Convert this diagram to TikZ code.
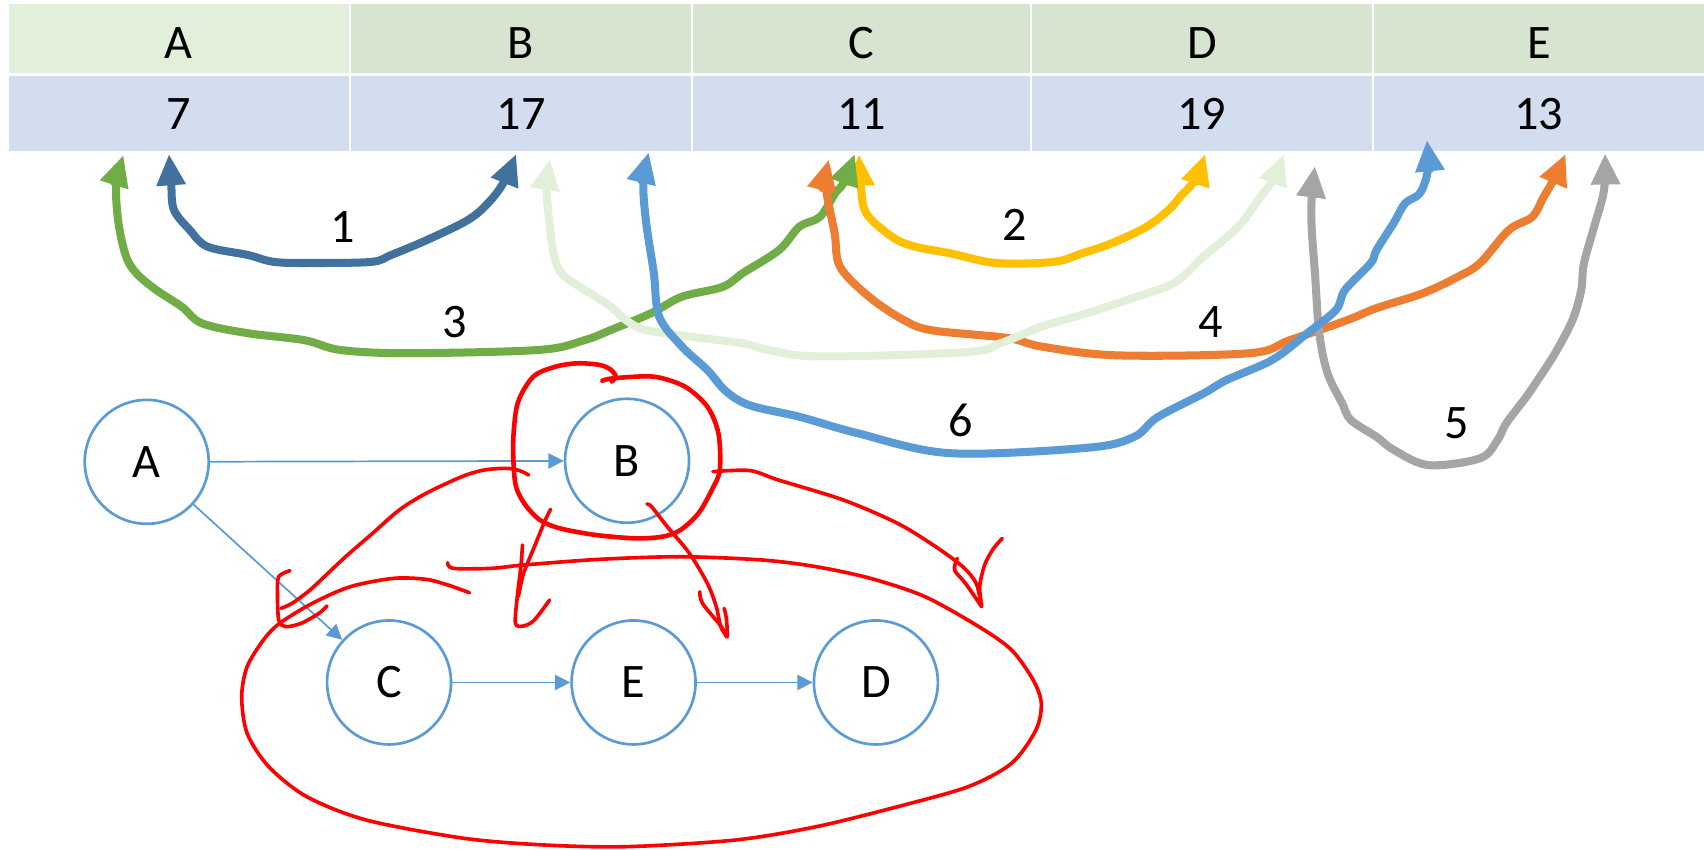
\documentclass[tikz,border=0pt]{standalone}
\usepackage{fontspec}
\setmainfont{Carlito}
\usetikzlibrary{arrows.meta}
\definecolor{hdrA}{HTML}{E2EFDA}
\definecolor{hdr}{HTML}{D7E4D0}
\definecolor{val}{HTML}{D2DEEF}
\definecolor{nodeblue}{HTML}{5B9BD5}
\definecolor{cdark}{HTML}{41719C}
\definecolor{cyellow}{HTML}{FFC000}
\definecolor{cgreen}{HTML}{70AD47}
\definecolor{cpale}{HTML}{E2F0D9}
\definecolor{corange}{HTML}{ED7D31}
\definecolor{cblue}{HTML}{5B9BD5}
\definecolor{cgray}{HTML}{A5A5A5}
\definecolor{pen}{HTML}{FF0000}
\begin{document}
\begin{tikzpicture}[x=0.01cm,y=-0.01cm,
  every node/.style={font=\fontsize{12.6}{14}\selectfont},
  hcell/.style={inner sep=0, outer sep=0, anchor=north west, minimum height=0.63cm},
  vcell/.style={inner sep=0, outer sep=0, anchor=north west, minimum height=0.69cm, fill=val},
  txt/.style={inner sep=0, anchor=base},
  num/.style={inner sep=0, anchor=center},
  flow/.style={line width=2.1pt, line cap=round, line join=round,
    {Triangle[length=8.2pt,width=7.2pt]}-{Triangle[length=8.2pt,width=7.2pt]}},
  gnode/.style={circle, draw=nodeblue, line width=0.7pt, minimum size=1.14cm, inner sep=0},
  gedge/.style={draw=nodeblue, line width=0.45pt, -{Triangle[length=4pt,width=4pt]}},
  redpen/.style={draw=pen, line width=0.95pt, line cap=round, line join=round},
]
\useasboundingbox (0,0) rectangle (1568,782);

% table: header row
\node[hcell, fill=hdrA, minimum width=3.13cm] (hA) at (8,4) {};
\node[hcell, fill=hdr, minimum width=3.13cm] (hB) at (323,4) {};
\node[hcell, fill=hdr, minimum width=3.10cm] (hC) at (638,4) {};
\node[hcell, fill=hdr, minimum width=3.12cm] (hD) at (950,4) {};
\node[hcell, fill=hdr, minimum width=3.04cm] (hE) at (1264,4) {};
% table: value row
\node[vcell, minimum width=3.13cm] (vA) at (8,70) {};
\node[vcell, minimum width=3.13cm] (vB) at (323,70) {};
\node[vcell, minimum width=3.10cm] (vC) at (638,70) {};
\node[vcell, minimum width=3.12cm] (vD) at (950,70) {};
\node[vcell, minimum width=3.04cm] (vE) at (1264,70) {};
% table texts
\node[txt] (tA) at (164.5,53.7) {A};
\node[txt] (tB) at (479.5,53.7) {B};
\node[txt] (tC) at (793,53.7) {C};
\node[txt] (tD) at (1106,53.7) {D};
\node[txt] (tE) at (1416,53.7) {E};
\node[txt] (nA) at (164.5,119.6) {7};
\node[txt] (nB) at (479.5,119.6) {17};
\node[txt] (nC) at (793,119.6) {11};
\node[txt] (nD) at (1106,119.6) {19};
\node[txt] (nE) at (1416,119.6) {13};

% end points of the swap arrows
\coordinate (p1a) at (155.5,141.7); \coordinate (p1b) at (475,141.7);
\coordinate (p2a) at (790.5,142);   \coordinate (p2b) at (1109,141.7);
\coordinate (p3a) at (113.6,142.6); \coordinate (p3b) at (786.6,141.7);
\coordinate (p4a) at (762.7,146.6); \coordinate (p4b) at (1440.7,141.7);
\coordinate (p5a) at (1210,152.8);  \coordinate (p5b) at (1477,141);
\coordinate (p6a) at (597,140);     \coordinate (p6b) at (1313,128.8);
\coordinate (pxa) at (506,146);     \coordinate (pxb) at (1181.6,141.7);

% swap 2
\draw[flow, cyellow] plot[smooth, tension=0.55] coordinates {(p2a) (792,168.6) (797,196) (821,218) (842,227) (874,233) (916.6,242) (969.6,241) (996,233) (1022.6,224) (1054.6,209) (1075.6,193) (1086,181) (1099.6,165.6) (p2b)};
% swap 1
\draw[flow, cdark] plot[smooth, tension=0.55] coordinates {(p1a) (157.5,168.6) (160,193) (174.6,211.6) (191,227) (228,234.6) (252,241) (285,242) (341.6,241) (360,234.6) (393,220.8) (430.5,202.5) (449,187) (463,168.6) (p1b)};
% swap 3
\draw[flow, cgreen] plot[smooth, tension=0.55] coordinates {(p3a) (107,171) (109,205) (116,236) (126,252) (144,267) (167.5,282.4) (186,297.6) (228,306.6) (280,313) (313,322) (374,325) (496,322) (538,313) (562,303.7) (599.6,288) (627.6,273) (665,264) (684,251) (717,230) (735.6,208.6) (754.6,199.5) (768.6,177.7) (776,168.6) (p3b)};
% swap 4
\draw[flow, corange] plot[smooth, tension=0.55] coordinates {(p4a) (760,172) (768,214.6) (773,245.5) (799.6,273) (831.6,294.5) (858,304) (927,311) (959,319) (1028,327) (1150,325) (1187,313) (1240,294.5) (1266.7,283.5) (1309,270) (1341,255) (1362,242) (1388.5,211.6) (1410,199.5) (1420.6,181) (1431,163) (p4b)};
% pale swap
\draw[flow, cpale] plot[smooth, tension=0.55] coordinates {(pxa) (503,172) (505,200) (510,236) (518,253) (538.5,267) (562,282) (576,294.6) (594.5,303.7) (637,310) (684,316) (707,322) (754.6,328) (890,324) (920,316) (938,309) (960,300) (1001,288) (1040,275) (1081,260) (1107.6,236) (1139,209) (1160,181) (1171.5,165.6) (pxb)};
% swap 5
\draw[flow, cgray] plot[smooth, tension=0.55] coordinates {(p5a) (1207,182) (1207,210) (1210,251) (1214,306.6) (1221.6,343.5) (1235,371) (1243,386.5) (1266.7,402) (1282.6,414) (1314.5,428) (1362,421.7) (1378,405) (1386,389.6) (1404.6,365) (1415,349.7) (1431,325) (1447,294.5) (1455,267) (1457.6,242) (1468,205) (1476,175) (p5b)};
% swap 6
\draw[flow, cblue] plot[smooth, tension=0.55] coordinates {(p6a) (592,168.6) (594.6,205) (601.6,251) (606.6,291.5) (627.6,319) (651,340.6) (668,360) (690,373) (736,383.6) (789,398.6) (874,417) (1001,412) (1043.6,402) (1065,384) (1107.6,362) (1128.7,349.7) (1171,331) (1203,306.6) (1229.5,285) (1237.6,266.9) (1261.4,242) (1266.7,230) (1282.6,205) (1293,187) (1306.7,177.7) (1314,156) (p6b)};

% step numbers
\node[num] (s1) at (315.6,209) {1};
\node[num] (s2) at (933.6,207) {2};
\node[num] (s3) at (418.7,296) {3};
\node[num] (s4) at (1114,296) {4};
\node[num] (s5) at (1340.7,389.6) {5};
\node[num] (s6) at (884,386.5) {6};

% graph
\node[gnode] (A) at (135,425) {A};
\node[gnode] (B) at (577,424) {B};
\node[gnode] (C) at (358,628) {C};
\node[gnode] (E) at (583,628) {E};
\node[gnode] (D) at (806,628) {D};
\draw[gedge] (A) -- (B);
\draw[gedge] (A) -- (C);
\draw[gedge] (C) -- (E);
\draw[gedge] (E) -- (D);

% red pen annotations
\draw[redpen, line width=1.2pt] plot[smooth, tension=0.5] coordinates {(554.3,350.3) (564.6,348.1) (601.6,346.6) (630.3,355.8) (650.9,374.2) (661.1,398.8) (662.4,432.5) (655,450.9) (642.7,472.4) (626.2,487.7) (609.8,493.8) (585.2,495.4) (548.2,492.3) (515.3,486.2) (496.8,478.5) (482.4,463.2) (474.2,444.8) (472.2,408) (476.3,371.2) (490.7,346.6) (511.2,337.4) (531.7,334.3) (552.3,335.9) (562.5,340.5) (566.6,346.6) (563,351)};
\draw[redpen] plot[smooth, tension=0.5] coordinates {(486.5,437.1) (478,433) (466,431) (445.5,432.5) (425,438.6) (392,454) (367.4,469.3) (342.8,490.8) (318.1,512.2) (301.7,527.6) (285.3,542.9) (268.8,555.2) (258.6,559.8)};
\draw[redpen] plot[smooth, tension=0.5] coordinates {(266.8,525.1) (256.5,530.6) (255.3,546) (256.5,570.5) (262.7,576.6) (277,573.6) (293.5,564.4) (300.9,557.6)};
\draw[redpen] plot[smooth, tension=0.5] coordinates {(412,517.8) (417,523) (452,523) (481.8,519.9) (551.6,514.7) (626.5,512.3) (701.3,515.3) (751.2,521.5) (801,532.2) (851,549) (900.8,576.7) (930.8,598.1) (950.7,625.7) (958.2,647.2) (953.2,671.8) (930.8,702.4) (890.9,723.9) (826,742.3) (751.2,760.7) (676.4,773) (576.6,779.1) (501.8,777.6) (427,771.4) (337.1,754.6) (282.3,733.1) (247.3,705.5) (227.4,674.8) (222.4,641.1) (227.4,613.5) (242.4,588.9) (257.3,573.6) (287.3,555.2) (322.2,539.9) (362.1,532.2) (392,533.1) (412,538.3) (432,545.4)};
\draw[redpen] plot[smooth, tension=0.5] coordinates {(506.7,468.7) (501.8,478.5) (491.8,503) (481.8,527.6) (477,549)};
\draw[redpen] plot[smooth, tension=0.5] coordinates {(480.8,501.5) (479.3,521.5) (476,549) (474.3,573.6) (481.8,576) (491.8,570.5) (505.7,552.1)};
\draw[redpen] plot[smooth, tension=0.5] coordinates {(595.4,463.8) (599.5,466.2) (614,484.6) (634.4,509.2) (650.9,536.8) (659.1,558.2) (663.2,576.6) (669,586)};
\draw[redpen] plot[smooth, tension=0.5] coordinates {(644,544.5) (646.4,555.2) (663.9,576.7) (669,586) (668.5,570) (666.4,559.8)};
\draw[redpen] plot[smooth, tension=0.5] coordinates {(656,434) (690,433) (716.3,441.7) (776.1,460.1) (826,481.6) (860.9,503) (885.9,521.5) (898.3,536.8) (903.3,558.2) (901.5,540) (906,520) (914,505) (922.3,495.4)};
\draw[redpen] plot[smooth, tension=0.5] coordinates {(880.9,513.8) (878.4,524.5) (888.4,536.8) (903.3,558.2)};
\end{tikzpicture}
\end{document}
